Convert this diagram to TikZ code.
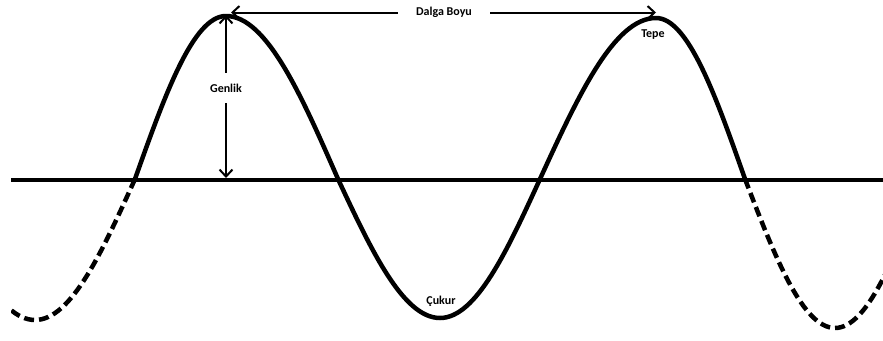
\documentclass[tikz,border=0pt]{standalone}
\usepackage{fontspec}
\setmainfont{Carlito}
\usepackage{tikz}
\usetikzlibrary{arrows.meta, positioning}

\begin{document}
\begin{tikzpicture}[
      x=1pt, y=-1pt,
      wave/.style={line width=4.5pt, line join=round},
      wavedash/.style={wave, dash pattern=on 10pt off 5pt},
      axis/.style={line width=4pt},
      dim/.style={{Straight Barb[length=7pt, width=13pt]}-, line width=2pt},
      lbl/.style={font=\fontsize{12}{14}\selectfont\bfseries, text=black, inner sep=1pt},
    ]
    \useasboundingbox (0,0) rectangle (883,340);

    % wave points
    \coordinate (crossO) at (-65,179);
    \coordinate (troughA) at (35,320);
    \coordinate (crossA) at (135,179);
    \coordinate (crestA) at (226,16);
    \coordinate (crossB) at (338,179);
    \coordinate (troughB) at (440,318);
    \coordinate (crossC) at (540,179);
    \coordinate (crestC) at (656,18);
    \coordinate (crossD) at (745,179);
    \coordinate (troughD) at (835,328);
    \coordinate (crossE) at (925,179);

    \coordinate (axL) at (11,179.5);
    \coordinate (axR) at (883,179.5);
    \draw[axis] (axL) -- (axR);

    \draw[wave] (crossA) sin (crestA) cos (crossB) sin (troughB) cos (crossC)
      sin (crestC) cos (crossD);

    \begin{scope}
      \clip (11,0) rectangle (883,340);
      \draw[wavedash] (crossA) sin (troughA) cos (crossO);
      \draw[wavedash] (crossD) sin (troughD) cos (crossE);
    \end{scope}

    % Dalga Boyu
    \coordinate (topA) at (231,12.5);
    \coordinate (topC) at (656,12.5);
    \node[lbl, fill=white, inner xsep=18pt] (wlen) at (444,12.5) {Dalga Boyu};
    \draw[dim] (topA) -- (wlen.west);
    \draw[dim] (topC) -- (wlen.east);

    % Genlik
    \coordinate (ampTop) at (226,15);
    \coordinate (ampBot) at (226,178);
    \node[lbl, fill=white, inner ysep=11pt] (amp) at (226,88) {Genlik};
    \draw[dim] (ampTop) -- (amp.north);
    \draw[dim] (ampBot) -- (amp.south);

    \node[lbl] (tepe) at (653,35) {Tepe};
    \node[lbl] (cukur) at (441,301) {Çukur};
  \end{tikzpicture}
\end{document}
